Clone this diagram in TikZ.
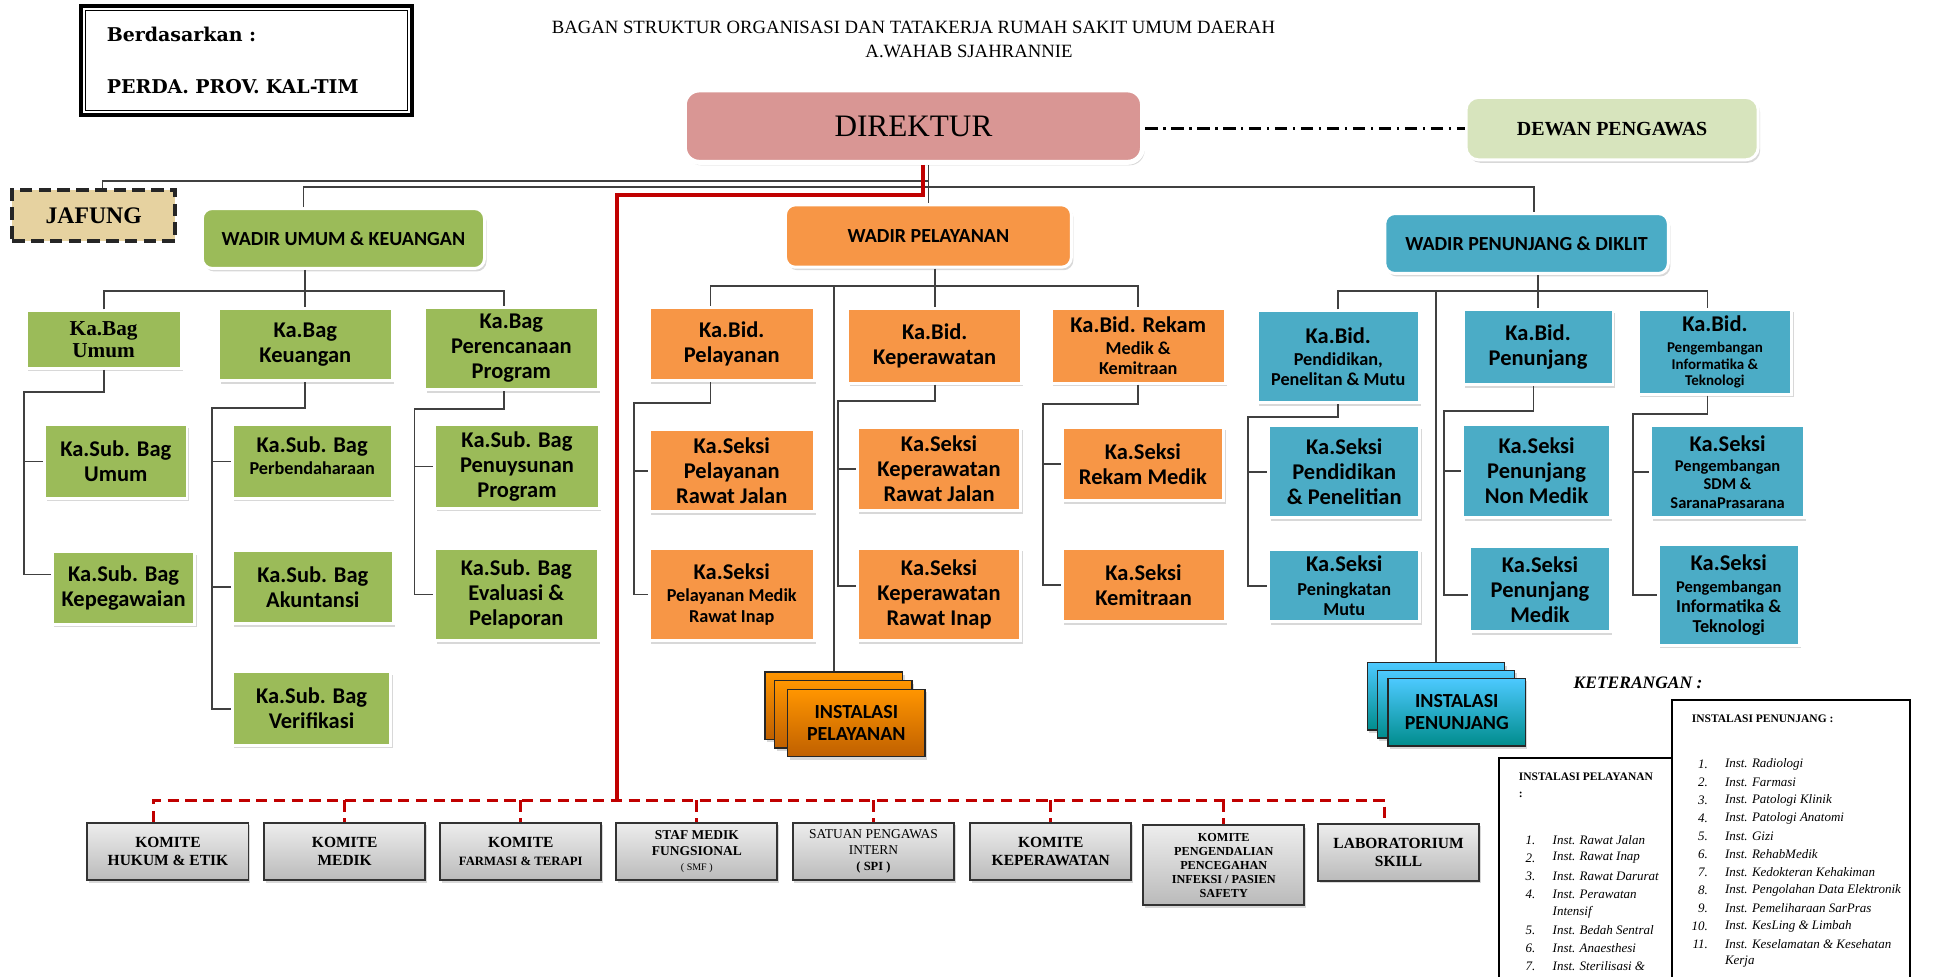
\documentclass[tikz,border=0pt]{standalone}
\usepackage{fontspec}
\usetikzlibrary{shadows}
\newfontfamily\carlito{Carlito}
\newfontfamily\libserif{Liberation Serif}
\newfontfamily\dvserif{DejaVu Serif}

\definecolor{bagcol}{HTML}{9BBB59}
\definecolor{bidcol}{HTML}{F79646}
\definecolor{pencol}{HTML}{4BACC6}
\definecolor{dircol}{HTML}{D99694}
\definecolor{dewancol}{HTML}{D7E4BD}
\definecolor{jafcol}{HTML}{E6D2A0}
\definecolor{redc}{HTML}{C00000}

\newcommand{\boxfont}{\carlito\bfseries\fontsize{9}{10}\selectfont}
\newcommand{\smalltxt}{\fontsize{7.3}{8.4}\selectfont}
\newcommand{\tinytxt}{\fontsize{6.6}{7.3}\selectfont}
\newcommand{\minitxt}{\fontsize{6}{6.6}\selectfont}

\tikzset{
  org/.style={rectangle, draw=white, line width=1.2pt, inner sep=0.5pt, align=center, font=\boxfont,
    drop shadow={shadow xshift=0.8pt, shadow yshift=-1.2pt, opacity=0.3}},
  bagbox/.style={org, fill=bagcol},
  bidbox/.style={org, fill=bidcol},
  penbox/.style={org, fill=pencol},
  tight/.style={font=\carlito\bfseries\fontsize{9}{#1}\selectfont},
  wadir/.style={org, rounded corners=4pt, minimum height=24pt, font=\carlito\bfseries\fontsize{8}{9}\selectfont},
  komite/.style={rectangle, draw=black!80, line width=0.8pt, top color=black!7, bottom color=black!27,
    align=center, inner sep=0.5pt, minimum width=64.5pt, minimum height=23pt,
    font=\libserif\bfseries\fontsize{6.2}{7.25}\selectfont,
    drop shadow={shadow xshift=0.6pt, shadow yshift=-1pt, opacity=0.3}},
  stack/.style={rectangle, draw=black!85, line width=0.6pt, minimum width=55pt, minimum height=27pt,
    align=center, font=\carlito\bfseries\fontsize{8}{8.8}\selectfont,
    drop shadow={shadow xshift=0.8pt, shadow yshift=-1.2pt, opacity=0.3}},
  pelstack/.style={stack, top color=orange!70!yellow!90!red, bottom color=orange!75!black},
  penstack/.style={stack, top color=cyan!70!blue!70!white, bottom color=cyan!55!black},
  conn/.style={draw=black!75, line width=0.7pt},
  redline/.style={draw=redc, line width=1.6pt},
  redbus/.style={draw=redc, line width=1.2pt, dash pattern=on 4.5pt off 2.6pt},
  legtxt/.style={inner sep=0.5pt, anchor=west, font=\libserif\itshape\fontsize{5.2}{6}\selectfont},
  legnum/.style={inner sep=0.5pt, anchor=east, font=\libserif\itshape\fontsize{5.2}{6}\selectfont},
  legtitle/.style={inner sep=0.5pt, anchor=west, font=\libserif\bfseries\fontsize{4.6}{5}\selectfont},
}

\begin{document}
\begin{tikzpicture}[x=0.5pt, y=-0.5pt]
    \path[use as bounding box, fill=white] (0,0) rectangle (1568,782);

    % header
    \node[draw, line width=1.8pt, minimum width=132.5pt, minimum height=43.5pt, text width=112pt, align=left, inner sep=0pt,
          font=\dvserif\bfseries\fontsize{7.6}{21}\selectfont] (dasar) at (197.5,48.5) {Berdasarkan :\\PERDA. PROV. KAL-TIM};
    \draw[line width=0.5pt] ([shift={(2.6pt,-2.6pt)}]dasar.north west) rectangle ([shift={(-2.6pt,2.6pt)}]dasar.south east);
    \node[inner sep=0pt, font=\libserif\fontsize{7.5}{9}\selectfont] (title1) at (731.5,22) {BAGAN STRUKTUR ORGANISASI DAN TATAKERJA RUMAH SAKIT UMUM DAERAH};
    \node[inner sep=0pt, font=\libserif\fontsize{7.5}{9}\selectfont] (title2) at (776,41) {A.WAHAB SJAHRANNIE};

    \node[org, fill=dircol, rounded corners=6pt, line width=2pt, minimum width=183.5pt, minimum height=29pt,
          font=\libserif\fontsize{12.5}{14}\selectfont] (direktur) at (731.5,101) {DIREKTUR};
    \node[org, fill=dewancol, rounded corners=5pt, minimum width=117pt, minimum height=25pt,
          font=\libserif\bfseries\fontsize{8}{9}\selectfont] (dewan) at (1291,103) {DEWAN PENGAWAS};
    \node[draw=black!85, fill=jafcol, line width=1.6pt, dash pattern=on 5pt off 2.5pt, minimum width=65pt, minimum height=20.5pt,
          font=\libserif\bfseries\fontsize{9.5}{10}\selectfont] (jafung) at (75,172.5) {JAFUNG};

    % wadir
    \node[wadir, fill=bagcol, minimum width=113pt] (wu) at (275,191) {WADIR UMUM \& KEUANGAN};
    \node[wadir, fill=bidcol, minimum width=114.5pt, minimum height=25pt] (wp) at (743.5,189) {WADIR PELAYANAN};
    \node[wadir, fill=pencol, minimum width=113.5pt] (wd) at (1222.5,195) {WADIR PENUNJANG \& DIKLIT};

    % umum & keuangan
    \node[bagbox, minimum width=62pt, minimum height=23pt, font=\libserif\bfseries\fontsize{8.5}{8.6}\selectfont] (bagumum) at (83,272) {Ka.Bag\\Umum};
    \node[bagbox, minimum width=69.5pt, minimum height=29pt] (bagkeu) at (244.5,276) {Ka.Bag\\Keuangan};
    \node[bagbox, minimum width=69.5pt, minimum height=33pt] (bagren) at (409.5,279) {Ka.Bag\\Perencanaan\\Program};
    \node[bagbox, minimum width=57pt, minimum height=29.5pt] (sbumum) at (92.75,369.5) {Ka.Sub. Bag\\Umum};
    \node[bagbox, minimum width=57pt, minimum height=29pt] (sbpeg) at (99,471) {Ka.Sub. Bag\\Kepegawaian};
    \node[bagbox, tight=8.8, minimum width=64pt, minimum height=29.5pt] (sbbend) at (250,369.5) {Ka.Sub. Bag\\\smalltxt Perbendaharaan\\[-4pt]};
    \node[bagbox, minimum width=64.5pt, minimum height=29.5pt] (sbakun) at (250.5,470) {Ka.Sub. Bag\\Akuntansi};
    \node[bagbox, minimum width=63.5pt, minimum height=29.5pt] (sbver) at (249.5,567.5) {Ka.Sub. Bag\\Verifikasi};
    \node[bagbox, minimum width=66pt, minimum height=33.5pt] (sbsusun) at (414,373.5) {Ka.Sub. Bag\\Penuysunan\\Program};
    \node[bagbox, minimum width=65.5pt, minimum height=37pt] (sbeval) at (413.5,476) {Ka.Sub. Bag\\Evaluasi \&\\Pelaporan};

    % pelayanan
    \node[bidbox, minimum width=66pt, minimum height=29.5pt] (bidpel) at (586,275.5) {Ka.Bid.\\Pelayanan};
    \node[bidbox, minimum width=69.5pt, minimum height=29.75pt] (bidkep) at (748.5,277) {Ka.Bid.\\Keperawatan};
    \node[bidbox, tight=8, minimum width=69.5pt, minimum height=29.75pt] (bidrekam) at (911.5,277) {Ka.Bid. Rekam\\[1pt]\smalltxt Medik \&\\\smalltxt Kemitraan};
    \node[bidbox, minimum width=66pt, minimum height=33pt] (skpelrj) at (586,377) {Ka.Seksi\\Pelayanan\\Rawat Jalan};
    \node[bidbox, tight=8.4, minimum width=66pt, minimum height=37pt] (skpelri) at (586,476) {Ka.Seksi\\[0.6pt]\smalltxt Pelayanan Medik\\\smalltxt Rawat Inap};
    \node[bidbox, minimum width=65.5pt, minimum height=33.5pt] (skkeprj) at (752,375.5) {Ka.Seksi\\Keperawatan\\Rawat Jalan};
    \node[bidbox, minimum width=65.5pt, minimum height=37pt] (skkepri) at (752,476) {Ka.Seksi\\Keperawatan\\Rawat Inap};
    \node[bidbox, minimum width=64.75pt, minimum height=29.5pt] (skrekam) at (915.25,371.5) {Ka.Seksi\\Rekam Medik};
    \node[bidbox, minimum width=65.25pt, minimum height=29.5pt] (skmitra) at (915.75,468.5) {Ka.Seksi\\Kemitraan};
    \node[pelstack] (instpel3) at (667.75,565) {};
    \node[pelstack] (instpel2) at (675.25,572) {};
    \node[pelstack] (instpel) at (685.75,579) {INSTALASI\\PELAYANAN};

    % penunjang & diklit
    \node[penbox, tight=8, minimum width=65pt, minimum height=36.75pt] (biddik) at (1071.7,285.75) {Ka.Bid.\\[1pt]\smalltxt Pendidikan,\\\smalltxt Penelitan \& Mutu};
    \node[penbox, minimum width=60pt, minimum height=30pt] (bidpen) at (1231.7,278) {Ka.Bid.\\Penunjang};
    \node[penbox, tight=6.6, minimum width=61.5pt, minimum height=34pt] (bidinfo) at (1373.3,281.7) {Ka.Bid.\\[2pt]\minitxt Pengembangan\\\minitxt Informatika \&\\\minitxt Teknologi};
    \node[penbox, minimum width=60.5pt, minimum height=36.8pt] (skdik) at (1076.5,377.8) {Ka.Seksi\\Pendidikan\\\& Penelitian};
    \node[penbox, tight=8, minimum width=60.5pt, minimum height=29pt] (skmutu) at (1076.5,469) {Ka.Seksi\\[1.5pt]\smalltxt Peningkatan\\\smalltxt Mutu};
    \node[penbox, minimum width=59pt, minimum height=37.3pt] (sknonmed) at (1230.5,377.3) {Ka.Seksi\\Penunjang\\Non Medik};
    \node[penbox, minimum width=56.25pt, minimum height=34pt] (skmedik) at (1233.25,472) {Ka.Seksi\\Penunjang\\Medik};
    \node[penbox, tight=7.3, minimum width=61.5pt, minimum height=36.8pt] (sksdm) at (1383.5,377.8) {Ka.Seksi\\[1pt]\tinytxt Pengembangan\\\tinytxt SDM \&\\\tinytxt SaranaPrasarana};
    \node[penbox, tight=8, minimum width=56.5pt, minimum height=40.5pt] (skinfo) at (1384.4,476.4) {Ka.Seksi\\[1pt]\tinytxt Pengembangan\\\smalltxt Informatika \&\\\smalltxt Teknologi};
    \node[penstack] (instpen3) at (1150,557.7) {};
    \node[penstack] (instpen2) at (1158,563.9) {};
    \node[penstack] (instpen) at (1166.6,570.25) {INSTALASI\\PENUNJANG};

    % komite
    \node[komite] (k1) at (134.5,682) {KOMITE\\HUKUM \& ETIK};
    \node[komite] (k2) at (276,682) {KOMITE\\MEDIK};
    \node[komite] (k3) at (417,682) {KOMITE\\\fontsize{5.1}{6}\selectfont FARMASI \& TERAPI};
    \node[komite, font=\libserif\bfseries\fontsize{5.4}{6.25}\selectfont] (k4) at (558,682) {STAF MEDIK\\FUNGSIONAL\\\mdseries\fontsize{4}{6.25}\selectfont ( SMF )};
    \node[komite, font=\libserif\fontsize{5.4}{6.4}\selectfont] (k5) at (699.5,682) {SATUAN PENGAWAS\\INTERN\\\bfseries\fontsize{5}{6}\selectfont ( SPI )};
    \node[komite] (k6) at (841.5,682) {KOMITE\\KEPERAWATAN};
    \node[komite, minimum height=32pt, font=\libserif\bfseries\fontsize{4.9}{5.6}\selectfont] (k7) at (980,693) {KOMITE\\PENGENDALIAN\\PENCEGAHAN\\INFEKSI / PASIEN\\SAFETY};
    \node[komite] (k8) at (1120,682.5) {LABORATORIUM\\SKILL};

    % lines from direktur
    \coordinate (jbus) at (743.5,145);
    \coordinate (wbus) at (743.5,150);
    \draw[line width=1pt, dash pattern=on 5pt off 2.2pt on 1pt off 2.2pt] (direktur.east |- dewan.west) -- (dewan.west);
    \draw[conn] (wp.north |- direktur.south) -- (wp.north);
    \draw[conn] ([xshift=3.5pt]jafung.north) |- (jbus);
    \draw[conn] ([xshift=-16pt]wu.north) |- (wbus) -| ([xshift=3pt]wd.north);

    % red line to komite
    \coordinate (rturn) at (494,156);
    \coordinate (kjoin) at (494,641);
    \draw[redline] ([xshift=3.75pt]direktur.south) |- (rturn) -- (kjoin);
    \draw[redbus] ([xshift=-5.75pt]k1.north) |- (kjoin) -| ([xshift=-5.5pt]k8.north);
    \foreach \k in {k2,k3,k4,k5,k6,k7}
        \draw[redbus] (\k.north |- kjoin) -- (\k.north);

    % umum & keuangan lines
    \coordinate (gbus) at (0,233);
    \draw[conn] (bagkeu.north |- wu.south) -- (bagkeu.north);
    \draw[conn] (bagumum.north) |- (gbus -| bagkeu.north) -| ([xshift=-3pt]bagren.north);
    \coordinate (gl1) at (19,314);
    \draw[conn] (bagumum.south) |- (gl1) |- ([yshift=5.5pt]sbpeg.west);
    \draw[conn] (gl1 |- sbumum.west) -- (sbumum.west);
    \coordinate (gl2) at (170,326.5);
    \draw[conn] (bagkeu.south) |- (gl2) |- (sbver.west);
    \draw[conn] (gl2 |- sbbend.west) -- (sbbend.west);
    \draw[conn] (gl2 |- sbakun.west) -- (sbakun.west);
    \coordinate (gl3) at (332,327.7);
    \draw[conn] ([xshift=-3pt]bagren.south) |- (gl3) |- (sbeval.west);
    \draw[conn] (gl3 |- sbsusun.west) -- (sbsusun.west);

    % pelayanan lines
    \coordinate (obus) at (0,229);
    \draw[conn] (bidkep.north |- wp.south) -- (bidkep.north);
    \draw[conn] ([xshift=-8.5pt]bidpel.north) |- (obus -| bidkep.north) -| (bidrekam.north);
    \draw[conn] (instpel3.north |- obus) -- (instpel3.north);
    \coordinate (ol1) at (508,323);
    \draw[conn] ([xshift=-8.5pt]bidpel.south) |- (ol1) |- (skpelri.west);
    \draw[conn] (ol1 |- skpelrj.west) -- (skpelrj.west);
    \coordinate (ol2) at (671,321);
    \draw[conn] (bidkep.south) |- (ol2) |- ([yshift=3.5pt]skkepri.west);
    \draw[conn] (ol2 |- skkeprj.west) -- (skkeprj.west);
    \coordinate (ol3) at (835,323.5);
    \draw[conn] (bidrekam.south) |- (ol3) |- (skmitra.west);
    \draw[conn] (ol3 |- skrekam.west) -- (skrekam.west);

    % penunjang lines
    \coordinate (bbus) at (0,232.8);
    \draw[conn] (bidpen.north |- wd.south) -- (bidpen.north);
    \draw[conn] (biddik.north) |- (bbus -| bidpen.north) -| ([xshift=-3pt]bidinfo.north);
    \draw[conn] (instpen3.north |- bbus) -- (instpen3.north);
    \coordinate (bl1) at (999.5,334);
    \draw[conn] (biddik.south) |- (bl1) |- (skmutu.west);
    \draw[conn] (bl1 |- skdik.west) -- (skdik.west);
    \coordinate (bl2) at (1156.4,329);
    \draw[conn] ([xshift=-1.8pt]bidpen.south) |- (bl2) |- ([yshift=-2.2pt]skmedik.west);
    \draw[conn] (bl2 |- sknonmed.west) -- (sknonmed.west);
    \coordinate (bl3) at (1307.6,331.6);
    \draw[conn] ([xshift=-3pt]bidinfo.south) |- (bl3) |- (skinfo.west);
    \draw[conn] (bl3 |- sksdm.west) -- (sksdm.west);

    % keterangan
    \node[inner sep=0pt, font=\libserif\bfseries\itshape\fontsize{7}{8}\selectfont] (keterangan) at (1311.75,547) {KETERANGAN :};
    \draw[line width=0.6pt] (1339,782) |- (1529.6,560.6) -- (1529.6,782);
    \draw[line width=0.6pt] (1200.5,782) |- (1339,607);
    \node[legtitle] (lpentitle) at (1353.5,576) {INSTALASI PENUNJANG :};
    \foreach \t [count=\i] in {Radiologi, Farmasi, Patologi Klinik, Patologi Anatomi, Gizi, RehabMedik,
        Kedokteran Kehakiman, Pengolahan Data Elektronik, Pemeliharaan SarPras, KesLing \& Limbah, Keselamatan \& Kesehatan}{
        \node[legnum] (pn\i) at (1369,597.6+14.4*\i) {\i.};
        \node[legtxt] (pt\i) at (1380,597.6+14.4*\i) {Inst. \t};
    }
    \node[legtxt] (pt12) at (1380,770.4) {Kerja};
    \node[legtitle] (lpeltitle) at (1215,622) {INSTALASI PELAYANAN};
    \node[legtitle] (lpelcolon) at (1215,636.7) {:};
    \foreach \n/\r/\t in {1/0/Rawat Jalan, 2/1/Rawat Inap, 3/2/Rawat Darurat, 4/3/Perawatan,
        5/5/Bedah Sentral, 6/6/Anaesthesi, 7/7/Sterilisasi \&}{
        \node[legnum] (ln\n) at (1231,672.7+14.4*\r) {\n.};
        \node[legtxt] (lt\n) at (1242,672.7+14.4*\r) {Inst. \t};
    }
    \node[legtxt] (ltint) at (1242,730.3) {Intensif};
\end{tikzpicture}
\end{document}
